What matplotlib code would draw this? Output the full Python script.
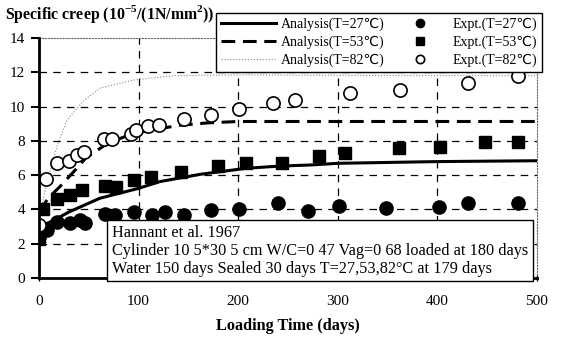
import matplotlib
matplotlib.use("Agg")
import matplotlib.pyplot as plt
from matplotlib.lines import Line2D

plt.rcParams['font.family'] = ['Liberation Serif', 'DejaVu Sans']
plt.rcParams['mathtext.fontset'] = 'custom'
plt.rcParams['mathtext.rm'] = 'Liberation Serif'
plt.rcParams['mathtext.bf'] = 'Liberation Serif:bold'

# Experimental specific creep (10^-5 per N/mm^2) versus loading time (days)
days_27 = [0, 8, 18, 31, 41, 46, 66, 76, 95, 113, 127, 146, 173, 201, 240, 270, 301, 348, 402, 431, 481]
expt_27 = [2.4, 2.8, 3.28, 3.2, 3.38, 3.23, 3.75, 3.67, 3.87, 3.67, 3.85, 3.67, 3.97, 4.03, 4.36, 3.93, 4.2, 4.1, 4.16, 4.39, 4.39]

days_53 = [0, 4, 18, 31, 43, 66, 77, 95, 112, 143, 180, 208, 244, 281, 307, 361, 403, 448, 481]
expt_53 = [2.3, 4.05, 4.6, 4.85, 5.15, 5.38, 5.32, 5.7, 5.9, 6.18, 6.53, 6.69, 6.69, 7.12, 7.3, 7.56, 7.66, 7.96, 7.96]

days_82 = [0, 7, 18, 30, 38, 45, 65, 73, 92, 97, 109, 120, 146, 173, 201, 235, 257, 312, 362, 431, 481]
expt_82 = [3.1, 5.8, 6.7, 6.85, 7.15, 7.35, 8.12, 8.1, 8.42, 8.62, 8.85, 8.92, 9.3, 9.5, 9.84, 10.19, 10.4, 10.77, 10.95, 11.4, 11.8]

# Analysis curves
t_a27 = [0, 5, 16, 30, 61, 100, 121, 162, 208, 242, 272, 300, 399, 500]
an_27 = [2.5, 3.1, 3.4, 3.85, 4.65, 5.23, 5.62, 6.05, 6.4, 6.53, 6.59, 6.69, 6.79, 6.84]

t_a53 = [0, 5, 10, 21, 38, 47, 69, 95, 140, 170, 200, 500]
an_53 = [3.9, 4.3, 4.7, 5.33, 6.4, 7.0, 7.86, 8.44, 8.9, 9.05, 9.13, 9.13]

t_a82 = [0, 2, 7, 15, 20, 28, 44, 61, 95, 135, 200, 300, 500]
an_82 = [3.0, 4.0, 5.3, 7.1, 8.0, 9.2, 10.3, 11.07, 11.55, 11.8, 11.85, 11.82, 11.8]

x_ticks = [0, 100, 200, 300, 400, 500]
y_ticks = [0, 2, 4, 6, 8, 10, 12, 14]

fig = plt.figure(figsize=(5.63, 3.42), dpi=100)
ax = fig.add_axes([39/563, 1 - 278/342, (537 - 39)/563, (278 - 38)/342])

ax.set_xlim(0, 500)
ax.set_ylim(0, 14)
ax.set_xticks(x_ticks)
ax.set_yticks(y_ticks)
ax.tick_params(axis='y', direction='out', length=6, width=1.5, labelsize=11, pad=4)
ax.tick_params(axis='x', direction='inout', length=5, width=1, labelsize=11, pad=10)

# dashed grid
for y in y_ticks[1:-1]:
    ax.axhline(y, color='black', lw=0.9, dashes=(6, 5), zorder=1)
for x in x_ticks[1:-1]:
    ax.axvline(x, color='black', lw=0.9, dashes=(6, 5), zorder=1)

for side in ('top', 'right'):
    ax.spines[side].set_linestyle(':')
    ax.spines[side].set_color('#666666')
    ax.spines[side].set_linewidth(0.8)
for side in ('left', 'bottom'):
    ax.spines[side].set_linewidth(2)
ax.spines['left'].set_zorder(5)
ax.spines['bottom'].set_zorder(5)

l27, = ax.plot(t_a27, an_27, color='black', lw=2.2, zorder=3)
l53, = ax.plot(t_a53, an_53, color='black', lw=2.2, dashes=(4.5, 2.5), zorder=3)
l82, = ax.plot(t_a82, an_82, color='#888888', lw=0.8, ls=':', zorder=3)

m27, = ax.plot(days_27, expt_27, 'o', color='black', ms=9.5, ls='none', zorder=4)
m53, = ax.plot(days_53, expt_53, 's', color='black', ms=8.5, ls='none', zorder=4)
m82, = ax.plot(days_82, expt_82, 'o', mfc='white', mec='black', mew=1.2, ms=9.5, ls='none', zorder=4)

fig.text(5/563, 1 - 19/342, r"Specific creep (10$^{\mathbf{-5}}$/(1N/mm$^{\mathbf{2}}$))",
         fontsize=11.4, fontweight='bold', ha='left', va='baseline')
ax.set_xlabel("Loading Time (days)", fontsize=11.7, fontweight='bold', labelpad=7)

h_l = [Line2D([], [], color='black', lw=2.2),
       Line2D([], [], color='black', lw=2.2, dashes=(4.5, 2.5)),
       Line2D([], [], color='#888888', lw=0.8, ls=':')]
h_m = [Line2D([], [], marker='o', color='black', ms=6, ls='none'),
       Line2D([], [], marker='s', color='black', ms=5.5, ls='none'),
       Line2D([], [], marker='o', mfc='white', mec='black', mew=1.2, ms=6, ls='none')]
labels = ["Analysis(T=27\u2103)", "Analysis(T=53\u2103)", "Analysis(T=82\u2103)",
          "Expt.(T=27\u2103)", "Expt.(T=53\u2103)", "Expt.(T=82\u2103)"]
leg = fig.legend(h_l + h_m, labels, ncol=2, loc='upper left',
                 bbox_to_anchor=(216/563, 1 - 13/342), fontsize=10,
                 frameon=True, fancybox=False, edgecolor='black', framealpha=1,
                 handlelength=4.0, handletextpad=0.3, columnspacing=0.6,
                 labelspacing=0.3, borderpad=0.35, borderaxespad=0)
leg.get_frame().set_linewidth(1)

ax.text((112 - 39)/498, (278 - 225)/240,
        "Hannant et al. 1967\n"
        "Cylinder 10 5*30 5 cm W/C=0 47 Vag=0 68 loaded at 180 days\n"
        "Water 150 days Sealed 30 days T=27,53,82\u00b0C at 179 days",
        transform=ax.transAxes, fontsize=11.7, ha='left', va='top', linespacing=1.15,
        zorder=10,
        bbox=dict(boxstyle='square,pad=0.3', fc='white', ec='black', lw=1))

fig.savefig("out.png", dpi=100)
